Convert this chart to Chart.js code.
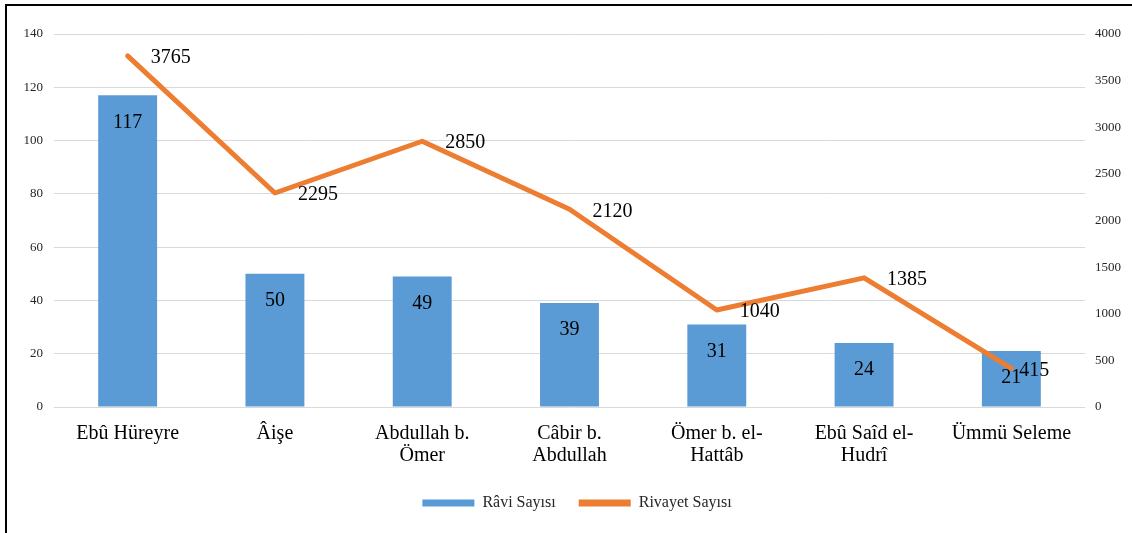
<!DOCTYPE html>
<html><head><meta charset="utf-8">
<script src="https://cdn.jsdelivr.net/npm/chart.js@4/dist/chart.umd.min.js"></script>
<style>html,body{margin:0;padding:0;background:#fff;}#wrap{width:1132px;height:533px;position:relative;}</style>
</head><body><div id="wrap"><canvas id="c" width="1132" height="533"></canvas></div>
<script>
const categories = [["Ebû Hüreyre"], ["Âişe"], ["Abdullah b.", "Ömer"], ["Câbir b.", "Abdullah"], ["Ömer b. el-", "Hattâb"], ["Ebû Saîd el-", "Hudrî"], ["Ümmü Seleme"]];
const raviSayisi = [117, 50, 49, 39, 31, 24, 21];
const rivayetSayisi = [3765, 2295, 2850, 2120, 1040, 1385, 415];
const leftTicks = [0, 20, 40, 60, 80, 100, 120, 140];
const rightTicks = [0, 500, 1000, 1500, 2000, 2500, 3000, 3500, 4000];
const seriesNames = ["Râvi Sayısı", "Rivayet Sayısı"];

const BLUE = '#5B9BD5', ORANGE = '#ED7D31';
const FONT = "'Liberation Serif', 'Times New Roman', serif";

const borderPlugin = {
  id: 'frame',
  beforeDraw(chart) {
    const ctx = chart.ctx;
    ctx.save();
    ctx.strokeStyle = '#000';
    ctx.lineWidth = 2;
    ctx.beginPath();
    ctx.moveTo(6, 533);
    ctx.lineTo(6, 5);
    ctx.lineTo(1132, 5);
    ctx.stroke();
    ctx.restore();
  }
};

const labelPlugin = {
  id: 'valueLabels',
  afterDatasetsDraw(chart) {
    const ctx = chart.ctx;
    ctx.save();
    ctx.font = "20px " + FONT;
    ctx.fillStyle = '#000';
    const barMeta = chart.getDatasetMeta(0);
    ctx.textAlign = 'center';
    ctx.textBaseline = 'middle';
    barMeta.data.forEach((el, i) => {
      ctx.fillText(String(raviSayisi[i]), el.x, el.y + 27);
    });
    const lineMeta = chart.getDatasetMeta(1);
    ctx.textAlign = 'left';
    lineMeta.data.forEach((el, i) => {
      const last = i === lineMeta.data.length - 1;
      ctx.fillText(String(rivayetSayisi[i]), el.x + (last ? 8 : 23), el.y + 2);
    });
    ctx.restore();
  }
};

new Chart(document.getElementById('c'), {
  data: {
    labels: categories,
    datasets: [
      {
        type: 'bar', label: seriesNames[0], data: raviSayisi, yAxisID: 'y',
        backgroundColor: BLUE, borderWidth: 0, barPercentage: 0.4, categoryPercentage: 1.0, order: 2
      },
      {
        type: 'line', label: seriesNames[1], data: rivayetSayisi, yAxisID: 'y1',
        borderColor: ORANGE, backgroundColor: ORANGE, borderWidth: 5, pointRadius: 0,
        tension: 0, borderCapStyle: 'round', borderJoinStyle: 'round', order: 1
      }
    ]
  },
  options: {
    responsive: false,
    animation: false,
    layout: { padding: { top: 34, left: 22, right: 0, bottom: 12 } },
    scales: {
      x: {
        grid: { display: false, drawTicks: false },
        border: { display: false },
        ticks: { font: { family: FONT, size: 20, lineHeight: 1.1 }, color: '#000', padding: 16, maxRotation: 0, autoSkip: false },
        afterFit(s) { s.height = 65; }
      },
      y: {
        position: 'left', min: 0, max: 140,
        afterBuildTicks(s) { s.ticks = leftTicks.map(v => ({ value: v })); },
        grid: { color: '#D9D9D9', lineWidth: 1, drawTicks: false },
        border: { display: false },
        ticks: { font: { family: FONT, size: 13 }, color: '#262626', padding: 11, callback: v => String(v) },
        afterFit(s) { s.width = 32; }
      },
      y1: {
        position: 'right', min: 0, max: 4000,
        afterBuildTicks(s) { s.ticks = rightTicks.map(v => ({ value: v })); },
        grid: { display: false, drawTicks: false },
        border: { display: false },
        ticks: { font: { family: FONT, size: 13 }, color: '#262626', padding: 10, callback: v => String(v) },
        afterFit(s) { s.width = 47; }
      }
    },
    plugins: {
      tooltip: { enabled: false },
      legend: {
        position: 'bottom',
        labels: {
          font: { family: FONT, size: 16 }, color: '#262626',
          boxWidth: 52, boxHeight: 7, padding: 23,
          generateLabels(chart) {
            return chart.data.datasets.map((d, i) => ({
              text: d.label, fillStyle: i === 0 ? BLUE : ORANGE, strokeStyle: i === 0 ? BLUE : ORANGE,
              lineWidth: 0, hidden: false, datasetIndex: i, fontColor: '#262626'
            }));
          }
        }
      }
    }
  },
  plugins: [borderPlugin, labelPlugin]
});
</script></body></html>
